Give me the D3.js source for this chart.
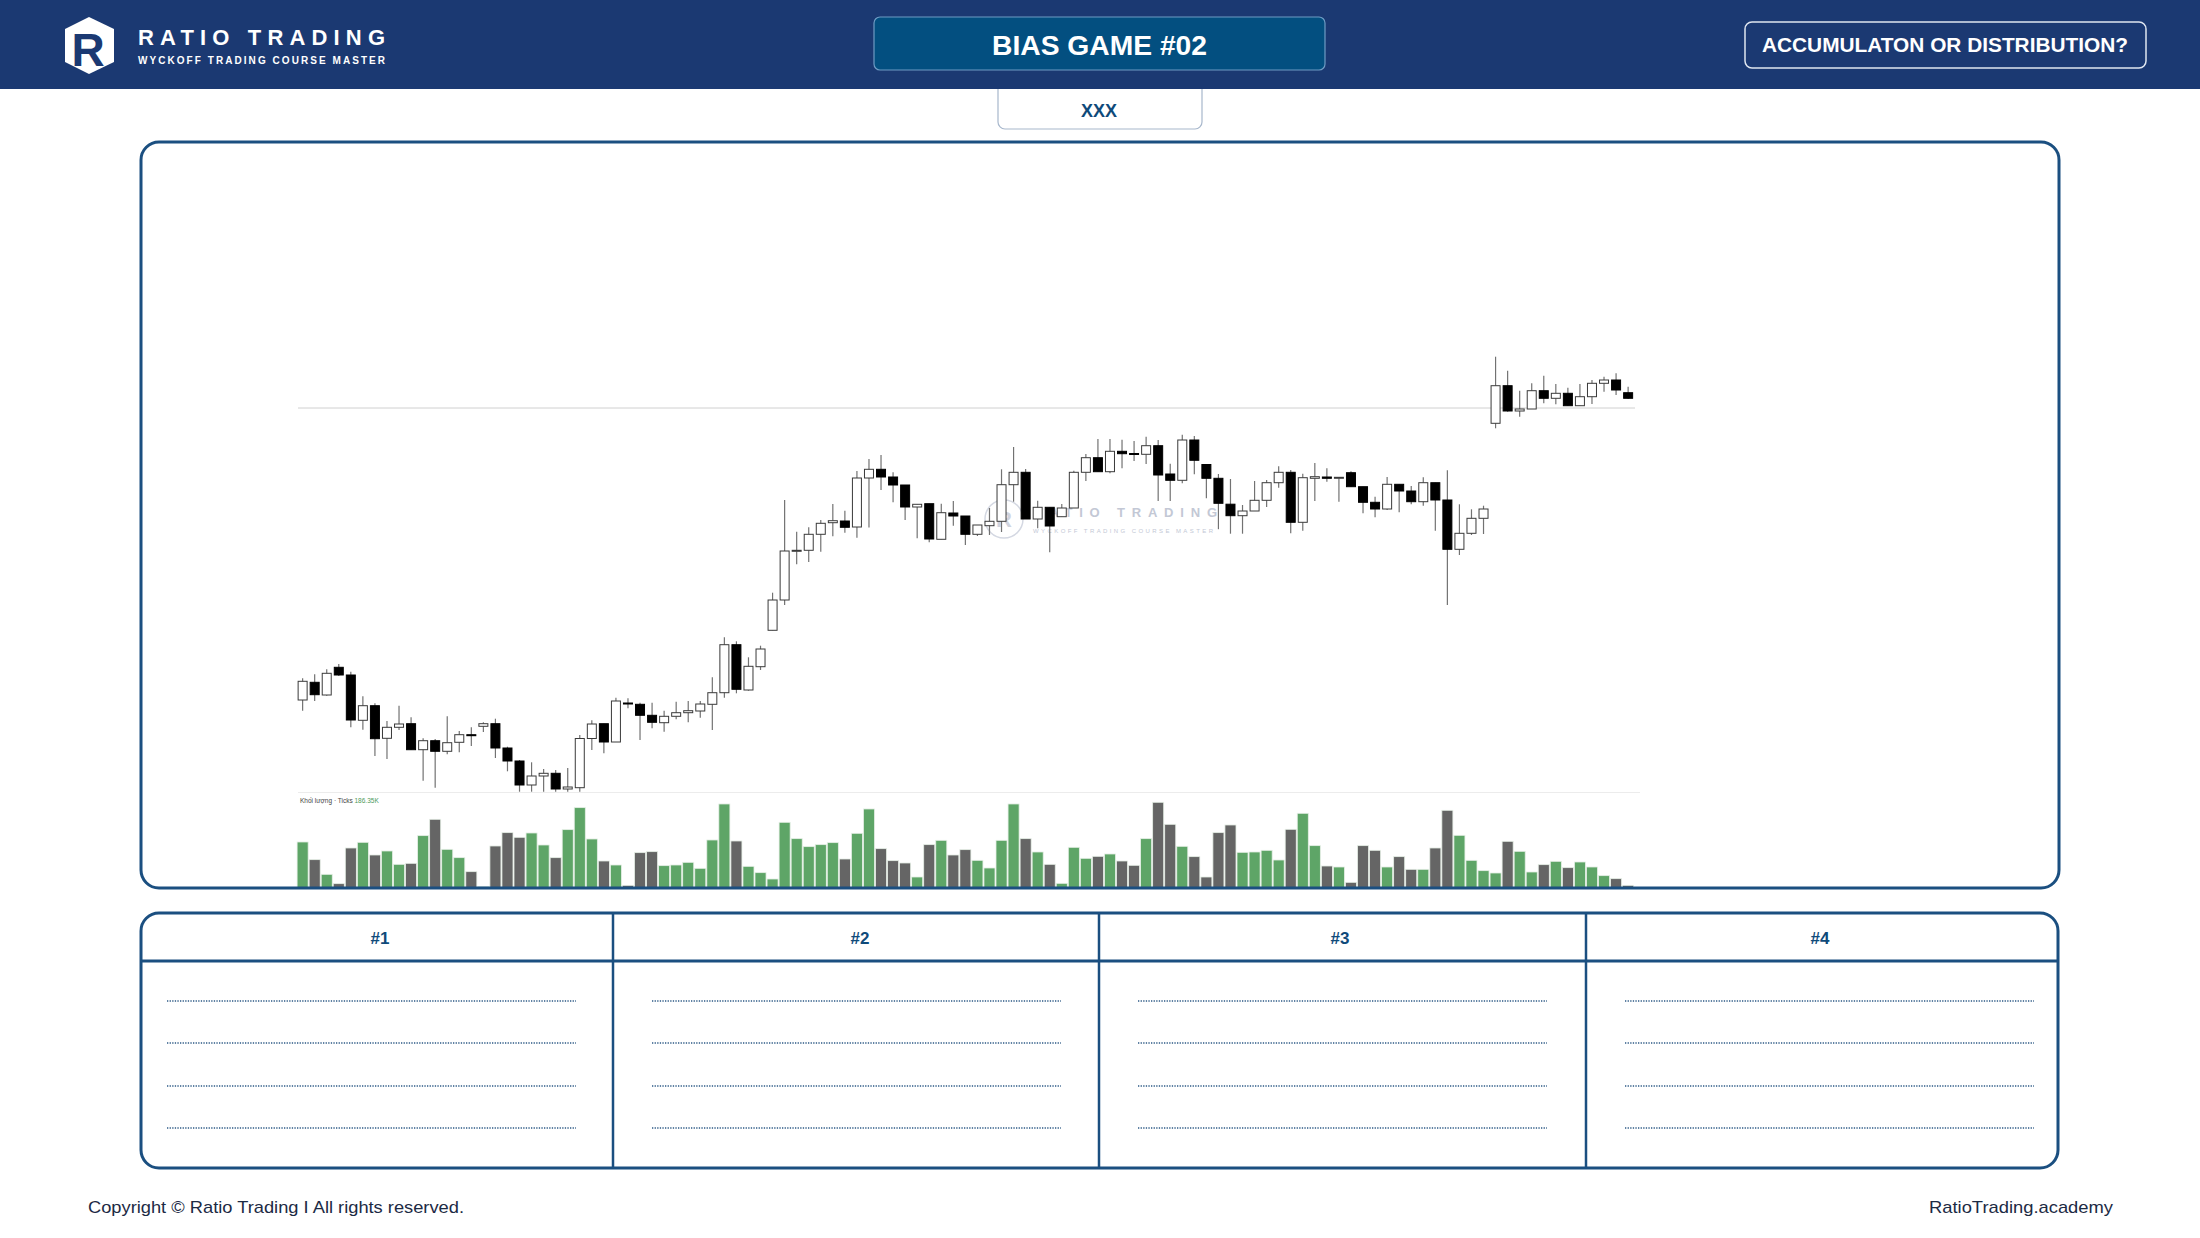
<!DOCTYPE html>
<html>
<head>
<meta charset="utf-8">
<script src="https://cdn.jsdelivr.net/npm/d3@7"></script>
<style>
  body { margin: 0; background: #fff; }
  svg { display: block; font-family: "Liberation Sans", Arial, sans-serif; }
</style>
</head>
<body>
<svg id="page" width="2200" height="1238"></svg>
<script>
// candle data (one entry per bar, oldest first)
var opens = [120,137.7,125,152.7,145,99.7,114.3,81.7,92.7,96.3,
  70.3,79.3,68.7,77.7,85.3,93.7,96.3,72,59,35,
  44,46.7,31,32.3,81.5,96.3,78,117,115.7,104.7,
  97.3,103.7,107.3,109,115.7,127.3,175.3,130,153.3,189.7,
  220,269,269.7,285.7,297.3,299,293,342,350.7,343,
  335,313,316.3,280.7,307,304,285.7,294.3,298.7,335.3,
  347.7,301,312.7,303.3,312,347.7,362.3,348.3,368.7,366.5,
  365.7,374.3,346,339.7,380,355.5,341.7,315.8,304.3,309,
  319.7,337.3,347.7,297.7,341.7,343,342.3,347.3,333.3,317.7,
  311,335.7,329,318.3,337.3,320,270.7,286.7,301.7,396.7,
  434.3,409,411,429.3,421.7,426.7,414.3,423.3,436.7,440,
  427.3];
var highs = [141.7,145.7,150.7,156,148.3,123.7,116.7,99,114.3,102.7,
  81.7,81,103.7,89,92.7,97.7,101.3,73.3,60,57.7,
  51,50,52,85,99.7,96.3,122.3,121.7,117.3,117.3,
  109.3,118.3,119,119,142.7,182.7,178.7,162.7,174.3,227.3,
  320,288.3,292.7,300,316,309.3,349,361,365,347.7,
  335,315.7,316.3,316.3,319,304,295,312,350.7,373,
  351,319.3,312.7,316,349.3,366,381,381,380.3,379,
  383.3,380,356.3,385.3,384,355.5,346,341,315,339,
  340,353.7,350,346.3,357,351.7,342.7,348.7,333.3,323.3,
  343,335.7,334,342.7,337.3,349.7,315.7,310.7,314.3,463.3,
  449.3,429.3,436.7,444.3,436,432.3,436,440,443.3,446.7,
  433.3];
var lows = [109.3,119,124.3,144,92.7,90.3,64,61,90,70,
  39.3,32.3,65.7,67.7,74,88,62,48.7,28.3,28.3,
  28.3,28.3,28.3,28.3,70,66.7,78,111.7,80,91.7,
  88.3,100.7,97.7,102.3,90,122.3,126.7,129.3,150,189.7,
  215,255.7,258,268.3,283.7,287.3,282.3,292.5,330,317.7,
  300,281.7,277.7,280.7,294.3,275,284,285,288,318.3,
  301,291.7,267.7,303.3,312,339,348.3,346.7,351.7,359,
  356,319,319,336.7,345.7,321.7,290.8,286.3,286.3,309,
  313,332.3,286.7,289.3,319,338.3,318.3,333.3,306.7,302.7,
  310,307.7,315.7,314.3,289.3,215,265,285,286,391.7,
  408.3,403.3,411,416.7,415.7,414,414.3,416,428.3,425,
  421];
var closes = [138.7,125.3,146.7,145,100,114.3,81.3,92.7,96,70.3,
  79.3,68.7,77.3,85.3,85,96.3,72,59,35,44,
  46.7,31,33,81.5,96,78,119,116.5,104.7,97.7,
  103.7,107.3,109.3,116,127.3,175.3,130.7,153.7,171,220,
  269,269.7,285.7,296.7,299.3,292.7,342,350.7,343,335,
  313,315.7,281,307.3,304,285.7,295,298.7,335.3,347.7,
  301,312.7,294,312,347.7,362.3,348.3,368.7,366.3,366.2,
  374.3,345,339.7,380,359.7,341.7,316.7,304.3,309,319.7,
  337.3,347.7,297.7,342.3,343.3,341.7,342.7,333.3,317.7,311,
  335.7,329,318.3,337.3,320,270.7,286.7,301.7,311,434.3,
  409,411,429.3,421.7,426.7,414.3,423.3,436.7,440,430,
  421.7];
// volume in K ticks
var volumes = [138,85,41,13,120,137,99,111,71,74,
  157,206,116,91,49,4,126,166,152,165,
  129,91,175,241,147,81,69,8,106,109,
  67,69,77,59,144,252,141,65,46,27,
  197,148,124,130,136,87,164,237,118,82,
  75,33,130,143,99,115,83,60,143,252,
  148,108,71,14,122,89,95,102,81,68,
  148,257,191,125,94,33,166,189,107,108,
  113,84,176,224,127,66,63,17,127,113,
  63,94,56,56,120,233,158,83,52,45,
  140,110,48,70,80,61,78,63,37,28,
  8];
var refLevel = 412;
var columnLabels = ["#1", "#2", "#3", "#4"];
var columnEdges = [141, 613, 1099, 1586, 2058];
var noteRows = [1001, 1043, 1086, 1128];

var svg = d3.select("#page");
var navy = "#1b3972";
var frame = "#1b4f80";
var ink = "#0f4a7a";

// XXX tab hanging under the header
svg.append("rect")
  .attr("x", 998).attr("y", 70).attr("width", 204).attr("height", 59)
  .attr("rx", 7).attr("fill", "#fff").attr("stroke", "#a7b7cc").attr("stroke-width", 1.2);
svg.append("text")
  .attr("x", 1099).attr("y", 117).attr("text-anchor", "middle")
  .attr("font-size", 18).attr("font-weight", "bold").attr("fill", ink)
  .attr("textLength", 36).attr("lengthAdjust", "spacingAndGlyphs")
  .text("XXX");

// header bar
svg.append("rect").attr("width", 2200).attr("height", 89).attr("fill", navy);

// logo
svg.append("path")
  .attr("d", "M89,17 L114,29 L114,62 L89,74 L65,62 L65,29 Z")
  .attr("fill", "#fff");
svg.append("text")
  .attr("x", 88).attr("y", 66).attr("text-anchor", "middle")
  .attr("font-size", 46).attr("font-weight", "bold").attr("fill", navy)
  .text("R");
svg.append("text")
  .attr("x", 138).attr("y", 45)
  .attr("font-size", 22).attr("font-weight", "bold").attr("fill", "#fff")
  .attr("textLength", 247).attr("lengthAdjust", "spacing")
  .text("RATIO TRADING");
svg.append("text")
  .attr("x", 138).attr("y", 64)
  .attr("font-size", 10).attr("font-weight", "bold").attr("fill", "#fff")
  .attr("textLength", 247).attr("lengthAdjust", "spacing")
  .text("WYCKOFF TRADING COURSE MASTER");

// title box
svg.append("rect")
  .attr("x", 874).attr("y", 17).attr("width", 451).attr("height", 53)
  .attr("rx", 6).attr("fill", "#034f80").attr("stroke", "#6f9cc4").attr("stroke-width", 1.2);
svg.append("text")
  .attr("x", 1099.5).attr("y", 55).attr("text-anchor", "middle")
  .attr("font-size", 28).attr("font-weight", "bold").attr("fill", "#fff")
  .attr("textLength", 215).attr("lengthAdjust", "spacingAndGlyphs")
  .text("BIAS GAME #02");

// question box
svg.append("rect")
  .attr("x", 1745).attr("y", 22).attr("width", 401).attr("height", 46)
  .attr("rx", 7).attr("fill", navy).attr("stroke", "#dfe6f0").attr("stroke-width", 1.5);
svg.append("text")
  .attr("x", 1945).attr("y", 52).attr("text-anchor", "middle")
  .attr("font-size", 21).attr("font-weight", "bold").attr("fill", "#fff")
  .attr("textLength", 366).attr("lengthAdjust", "spacingAndGlyphs")
  .text("ACCUMULATON OR DISTRIBUTION?");

// chart panel
svg.append("rect")
  .attr("x", 141).attr("y", 142).attr("width", 1918).attr("height", 746)
  .attr("rx", 18).attr("fill", "#fff");

var chart = svg.append("g");

var x = d3.scaleBand()
  .domain(d3.range(opens.length))
  .range([296.6, 1634.15]);
var y = d3.scaleLinear().domain([0, 480]).range([820, 340]);
var yVol = d3.scaleLinear().domain([0, 260]).range([888, 801.3]);
var bw = x.bandwidth();
var bodyW = 9;

// watermark
var wm = chart.append("g");
wm.append("circle").attr("cx", 1004).attr("cy", 519).attr("r", 19)
  .attr("fill", "none").attr("stroke", "#d4d8e2").attr("stroke-width", 1.5);
wm.append("text").attr("x", 1004).attr("y", 527).attr("text-anchor", "middle")
  .attr("font-size", 22).attr("font-weight", "bold").attr("fill", "#cfd3de").text("R");
wm.append("text").attr("x", 1033).attr("y", 517)
  .attr("font-size", 13).attr("font-weight", "bold").attr("fill", "#c3c8d5")
  .attr("textLength", 184).attr("lengthAdjust", "spacing")
  .text("RATIO TRADING");
wm.append("text").attr("x", 1033).attr("y", 533)
  .attr("font-size", 6).attr("fill", "#c3c8d5")
  .attr("textLength", 180).attr("lengthAdjust", "spacing")
  .text("WYCKOFF TRADING COURSE MASTER");

// reference level
chart.append("line")
  .attr("x1", 298).attr("x2", 1635)
  .attr("y1", y(refLevel)).attr("y2", y(refLevel))
  .attr("stroke", "#d0d0d0").attr("stroke-width", 1);

// price / volume separator
chart.append("line")
  .attr("x1", 298).attr("x2", 1640).attr("y1", 792.5).attr("y2", 792.5)
  .attr("stroke", "#ececec").attr("stroke-width", 1);

var idx = d3.range(opens.length);

// wicks
chart.selectAll(".wick")
  .data(idx)
  .enter()
  .append("line")
  .attr("class", "wick")
  .attr("x1", function(i) { return x(i) + bw / 2; })
  .attr("x2", function(i) { return x(i) + bw / 2; })
  .attr("y1", function(i) { return y(highs[i]); })
  .attr("y2", function(i) { return y(lows[i]); })
  .attr("stroke", "#727272")
  .attr("stroke-width", 1.2);

// bodies
chart.selectAll(".body")
  .data(idx)
  .enter()
  .append("rect")
  .attr("class", "body")
  .attr("x", function(i) { return x(i) + bw / 2 - bodyW / 2; })
  .attr("width", bodyW)
  .attr("y", function(i) { return y(Math.max(opens[i], closes[i])); })
  .attr("height", function(i) { return Math.max(1, Math.abs(y(opens[i]) - y(closes[i]))); })
  .attr("fill", function(i) { return closes[i] >= opens[i] ? "#fff" : "#000"; })
  .attr("stroke", function(i) { return closes[i] >= opens[i] ? "#3a3a3a" : "#000"; })
  .attr("stroke-width", 1);

// volume
chart.selectAll(".vol")
  .data(idx)
  .enter()
  .append("rect")
  .attr("class", "vol")
  .attr("x", function(i) { return x(i) + 0.5; })
  .attr("width", bw - 1)
  .attr("y", function(i) { return yVol(volumes[i]); })
  .attr("height", function(i) { return yVol(0) - yVol(volumes[i]); })
  .attr("fill", function(i) { return closes[i] >= opens[i] ? "#5ea567" : "#656565"; })
  .attr("stroke", "#e6efe6")
  .attr("stroke-width", 0.8);

var volLabel = chart.append("text").attr("x", 300).attr("y", 803)
  .attr("font-size", 6.5).attr("fill", "#444");
volLabel.append("tspan").text("Khối lượng · Ticks ");
volLabel.append("tspan").attr("fill", "#4e9a5a").text("186.35K");

// panel border on top
svg.append("rect")
  .attr("x", 141).attr("y", 142).attr("width", 1918).attr("height", 746)
  .attr("rx", 18).attr("fill", "none").attr("stroke", frame).attr("stroke-width", 3);

// answer table
var table = svg.append("g");
table.append("rect")
  .attr("x", 141).attr("y", 913).attr("width", 1917).attr("height", 255)
  .attr("rx", 18).attr("fill", "#fff").attr("stroke", frame).attr("stroke-width", 3);
table.append("line")
  .attr("x1", 141).attr("x2", 2058).attr("y1", 961).attr("y2", 961)
  .attr("stroke", frame).attr("stroke-width", 3);
table.selectAll(".divider")
  .data(columnEdges.slice(1, 4))
  .enter()
  .append("line")
  .attr("class", "divider")
  .attr("x1", function(d) { return d; }).attr("x2", function(d) { return d; })
  .attr("y1", 913).attr("y2", 1168)
  .attr("stroke", frame).attr("stroke-width", 2.5);

columnLabels.forEach(function(label, c) {
  var cx = (columnEdges[c] + columnEdges[c + 1]) / 2;
  table.append("text")
    .attr("x", 380 + c * 480).attr("y", 944).attr("text-anchor", "middle")
    .attr("font-size", 17).attr("font-weight", "bold").attr("fill", ink)
    .text(label);
  var left = columnEdges[c] + (c === 0 ? 26 : 39);
  noteRows.forEach(function(ry) {
    table.append("line")
      .attr("x1", left).attr("x2", left + 409)
      .attr("y1", ry).attr("y2", ry)
      .attr("stroke", "#2d5a86").attr("stroke-width", 1.3)
      .attr("stroke-dasharray", "1.3 1.3");
  });
});

// footer
svg.append("text")
  .attr("x", 88).attr("y", 1213)
  .attr("font-size", 17).attr("fill", "#1c2a44")
  .attr("textLength", 376).attr("lengthAdjust", "spacingAndGlyphs")
  .text("Copyright © Ratio Trading I All rights reserved.");
svg.append("text")
  .attr("x", 2113).attr("y", 1213).attr("text-anchor", "end")
  .attr("font-size", 17).attr("fill", "#1c2a44")
  .attr("textLength", 184).attr("lengthAdjust", "spacingAndGlyphs")
  .text("RatioTrading.academy");
</script>
</body>
</html>
